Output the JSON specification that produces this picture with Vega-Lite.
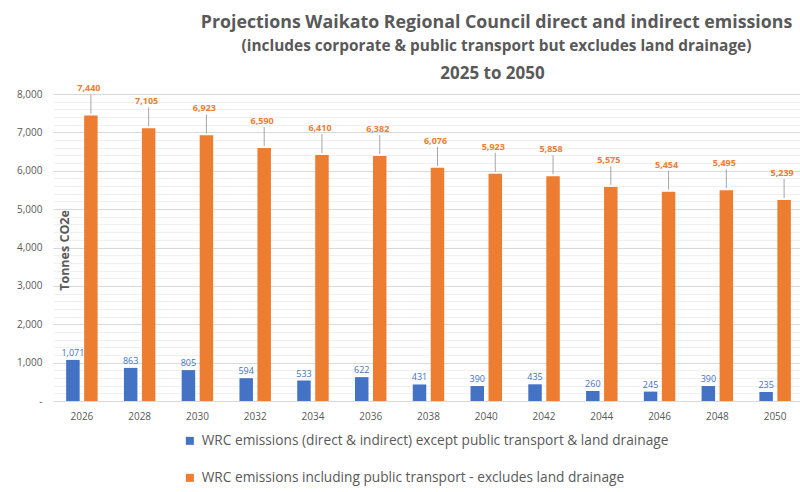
{
  "$schema": "https://vega.github.io/schema/vega-lite/v6.json",
  "width": 751,
  "height": 307,
  "autosize": {"type": "none"},
  "padding": {"left": 53, "top": 94, "right": 0, "bottom": 91},
  "background": "white",
  "config": {"view": {"stroke": null}, "font": "Open Sans"},
  "title": {
    "text": "Projections Waikato Regional Council direct and indirect emissions",
    "subtitle": "(includes corporate & public transport but excludes land drainage)",
    "anchor": "middle",
    "dx": 68,
    "fontSize": 17.8,
    "fontWeight": "bold",
    "color": "#595959",
    "subtitleFontSize": 15.4,
    "subtitleFontWeight": "bold",
    "subtitleColor": "#595959",
    "subtitlePadding": 7,
    "offset": 10
  },
  "data": {
    "values": [
      {"year": "2026", "series": "WRC emissions (direct & indirect) except public transport & land drainage", "value": 1071},
      {"year": "2028", "series": "WRC emissions (direct & indirect) except public transport & land drainage", "value": 863},
      {"year": "2030", "series": "WRC emissions (direct & indirect) except public transport & land drainage", "value": 805},
      {"year": "2032", "series": "WRC emissions (direct & indirect) except public transport & land drainage", "value": 594},
      {"year": "2034", "series": "WRC emissions (direct & indirect) except public transport & land drainage", "value": 533},
      {"year": "2036", "series": "WRC emissions (direct & indirect) except public transport & land drainage", "value": 622},
      {"year": "2038", "series": "WRC emissions (direct & indirect) except public transport & land drainage", "value": 431},
      {"year": "2040", "series": "WRC emissions (direct & indirect) except public transport & land drainage", "value": 390},
      {"year": "2042", "series": "WRC emissions (direct & indirect) except public transport & land drainage", "value": 435},
      {"year": "2044", "series": "WRC emissions (direct & indirect) except public transport & land drainage", "value": 260},
      {"year": "2046", "series": "WRC emissions (direct & indirect) except public transport & land drainage", "value": 245},
      {"year": "2048", "series": "WRC emissions (direct & indirect) except public transport & land drainage", "value": 390},
      {"year": "2050", "series": "WRC emissions (direct & indirect) except public transport & land drainage", "value": 235},
      {"year": "2026", "series": "WRC emissions including  public transport - excludes land drainage", "value": 7440},
      {"year": "2028", "series": "WRC emissions including  public transport - excludes land drainage", "value": 7105},
      {"year": "2030", "series": "WRC emissions including  public transport - excludes land drainage", "value": 6923},
      {"year": "2032", "series": "WRC emissions including  public transport - excludes land drainage", "value": 6590},
      {"year": "2034", "series": "WRC emissions including  public transport - excludes land drainage", "value": 6410},
      {"year": "2036", "series": "WRC emissions including  public transport - excludes land drainage", "value": 6382},
      {"year": "2038", "series": "WRC emissions including  public transport - excludes land drainage", "value": 6076},
      {"year": "2040", "series": "WRC emissions including  public transport - excludes land drainage", "value": 5923},
      {"year": "2042", "series": "WRC emissions including  public transport - excludes land drainage", "value": 5858},
      {"year": "2044", "series": "WRC emissions including  public transport - excludes land drainage", "value": 5575},
      {"year": "2046", "series": "WRC emissions including  public transport - excludes land drainage", "value": 5454},
      {"year": "2048", "series": "WRC emissions including  public transport - excludes land drainage", "value": 5495},
      {"year": "2050", "series": "WRC emissions including  public transport - excludes land drainage", "value": 5239}
    ]
  },
  "encoding": {
    "x": {
      "field": "year",
      "type": "ordinal",
      "scale": {"paddingInner": 0.455, "paddingOuter": 0.2275},
      "axis": null
    },
    "xOffset": {
      "field": "series",
      "type": "nominal",
      "scale": {"paddingInner": 0.25, "paddingOuter": 0}
    },
    "y": {
      "field": "value",
      "type": "quantitative",
      "scale": {"domain": [0, 8000], "nice": false},
      "axis": {
        "values": [0,200,400,600,800,1000,1200,1400,1600,1800,2000,2200,2400,2600,2800,3000,3200,3400,3600,3800,4000,4200,4400,4600,4800,5000,5200,5400,5600,5800,6000,6200,6400,6600,6800,7000,7200,7400,7600,7800,8000],
        "labelExpr": "datum.value % 1000 == 0 ? (datum.value == 0 ? '-' : format(datum.value, ',')) : ''",
        "gridColor": {"condition": {"test": "datum.value % 1000 == 0", "value": "#d9d9d9"}, "value": "#f0f0f0"},
        "ticks": false,
        "domain": false,
        "labelFontSize": 10,
        "labelColor": "#595959",
        "labelPadding": 11,
        "title": "Tonnes CO2e",
        "titleFontSize": 12.5,
        "titleFontWeight": "bold",
        "titleColor": "#595959",
        "titleAngle": -90,
        "titleX": 11,
        "titleY": 156,
        "titleAlign": "center",
        "titleBaseline": "middle"
      }
    }
  },
  "layer": [
    {
      "mark": {"type": "bar"},
      "encoding": {
        "x": {
          "field": "year",
          "type": "ordinal",
          "scale": {"paddingInner": 0.455, "paddingOuter": 0.2275},
          "axis": {
            "title": null,
            "labelAngle": 0,
            "labelFontSize": 10,
            "labelColor": "#595959",
            "labelPadding": 10,
            "ticks": false,
            "domainColor": "#d9d9d9",
            "grid": false
          }
        },
        "color": {
          "field": "series",
          "type": "nominal",
          "scale": {
            "domain": ["WRC emissions (direct & indirect) except public transport & land drainage", "WRC emissions including  public transport - excludes land drainage"],
            "range": ["#4472C4", "#ED7D31"]
          },
          "legend": {
            "orient": "none",
            "legendX": 130,
            "legendY": 340,
            "direction": "vertical",
            "title": null,
            "symbolType": "square",
            "symbolSize": 64,
            "symbolStrokeWidth": 0,
            "labelFontSize": 13.7,
            "labelColor": "#595959",
            "rowPadding": 22,
            "labelOffset": 5,
            "labelLimit": 0
          }
        }
      }
    },
    {
      "transform": [{"filter": "datum.series == 'WRC emissions (direct & indirect) except public transport & land drainage'"}],
      "mark": {"type": "text", "baseline": "alphabetic", "dy": -4, "fontSize": 9, "color": "#4472C4"},
      "encoding": {
        "text": {"field": "value", "type": "quantitative", "format": ","}
      }
    },
    {
      "transform": [{"filter": "datum.series == 'WRC emissions including  public transport - excludes land drainage'"}],
      "mark": {"type": "text", "baseline": "alphabetic", "dy": -24, "dx": -2, "fontSize": 9, "fontWeight": "bold", "color": "#ED7D31"},
      "encoding": {
        "text": {"field": "value", "type": "quantitative", "format": ","}
      }
    },
    {
      "transform": [{"filter": "datum.series == 'WRC emissions including  public transport - excludes land drainage'"}],
      "mark": {"type": "rule", "color": "#a6a6a6", "strokeWidth": 1, "yOffset": -2, "y2Offset": -21},
      "encoding": {
        "x": {
          "field": "year",
          "type": "ordinal",
          "scale": {"paddingInner": 0.455, "paddingOuter": 0.2275},
          "axis": {
            "orient": "top",
            "title": "2025 to 2050",
            "labels": false,
            "ticks": false,
            "domain": false,
            "grid": false,
            "titleFontSize": 17,
            "titleFontWeight": "bold",
            "titleColor": "#595959",
            "titleX": 439,
            "titleY": -16,
            "titleAlign": "center",
            "titleBaseline": "alphabetic"
          }
        },
        "y2": {"field": "value"}
      }
    }
  ],
  "resolve": {"axis": {"x": "independent"}}
}
